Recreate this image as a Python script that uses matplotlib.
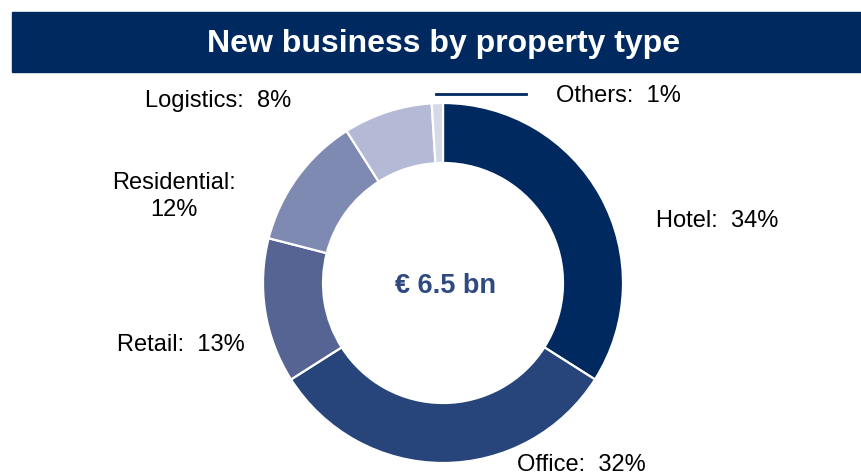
import matplotlib.pyplot as plt
from matplotlib.patches import Rectangle

categories = ['Hotel', 'Office', 'Retail', 'Residential', 'Logistics', 'Others']
shares = [34, 32, 13, 12, 8, 1]
colors = ['#002960', '#27457a', '#566493', '#7f8ab3', '#b4bad5', '#d5d9e8']
total_label = '€ 6.5 bn'
title = 'New business by property type'

plt.rcParams['font.family'] = ['Liberation Sans', 'DejaVu Sans']

W, H = 862, 475
fig = plt.figure(figsize=(W / 100, H / 100), dpi=100)
ax = fig.add_axes([0, 0, 1, 1])

# title banner
ax.add_patch(Rectangle((12, H - 72), W - 12, 60, color='#002960', zorder=1))
ax.text(444, H - 44, title, color='white', fontsize=23, fontweight='bold',
        ha='center', va='center')

cx, cy, r = 443, H - 283, 180
ax.pie(shares, colors=colors, startangle=90, counterclock=False,
       center=(cx, cy), radius=r, frame=True,
       wedgeprops=dict(width=60, edgecolor='white', linewidth=1.6))
ax.set_xlim(0, W)
ax.set_ylim(0, H)
ax.set_aspect('equal')
ax.axis('off')

ax.text(cx + 3, cy - 3, total_label, color='#2e4a80', fontsize=19.5,
        fontweight='bold', ha='center', va='center')

# labels placed by hand like the original slide
lab = dict(fontsize=17, color='black', va='center')
ax.text(656, H - 221, f'{categories[0]}:  {shares[0]}%', ha='left', **lab)
ax.text(581, H - 465, f'{categories[1]}:  {shares[1]}%', ha='center', **lab)
ax.text(245, H - 345, f'{categories[2]}:  {shares[2]}%', ha='right', **lab)
ax.text(174, H - 183, f'{categories[3]}:', ha='center', **lab)
ax.text(174, H - 210, f'{shares[3]}%', ha='center', **lab)
ax.text(291, H - 101, f'{categories[4]}:  {shares[4]}%', ha='right', **lab)
ax.text(556, H - 96, f'{categories[5]}:  {shares[5]}%', ha='left', **lab)
ax.plot([436, 526], [H - 94, H - 94], color='#002960', linewidth=2)

fig.savefig('out.png', dpi=100)
